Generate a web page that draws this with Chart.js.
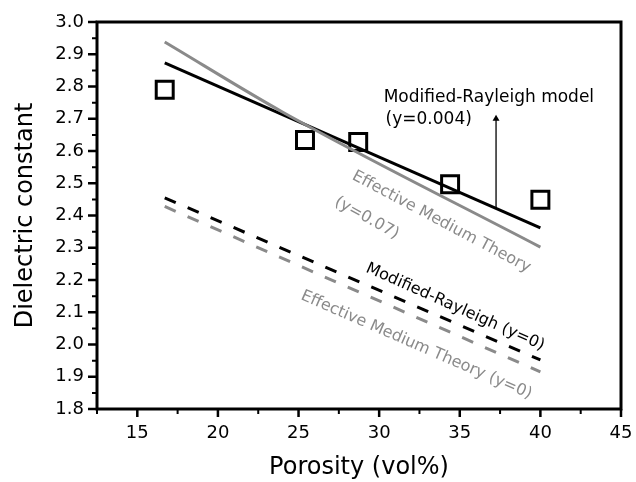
<!DOCTYPE html>
<html>
<head>
<meta charset="utf-8">
<script src="https://cdn.jsdelivr.net/npm/chart.js@4.4.0/dist/chart.umd.min.js"></script>
<style>
	html, body { margin: 0; padding: 0; background: #fff; }
	#wrap { width: 636px; height: 482px; }
</style>
</head>
<body>
<div id="wrap"><canvas id="myChart" width="636" height="482"></canvas></div>
<script>
// tick labels
const xTicks = [15, 20, 25, 30, 35, 40, 45];
const yTicks = [1.8, 1.9, 2.0, 2.1, 2.2, 2.3, 2.4, 2.5, 2.6, 2.7, 2.8, 2.9, 3.0];

// measured points
const porosity = [16.7, 25.4, 28.7, 34.4, 40.0];
const measured = [2.79, 2.634, 2.628, 2.497, 2.449];

// model curves
const rayleighX = [16.7, 40.0];
const rayleighFit = [2.873, 2.362];
const emtX = [16.7, 24.0, 40.0];
const emtFit = [2.938, 2.721, 2.302];
const zeroX = [16.7, 40.0];
const rayleighZero = [2.455, 1.952];
const emtZero = [2.428, 1.915];

// arrow pointing at the fit line
const arrowX = [37.25, 37.25];
const arrowY = [2.422, 2.70];

const FONT = "'DejaVu Sans', sans-serif";
const GRAY = "#8a8a8a";

const pts = (xs, ys) => xs.map((v, i) => ({ x: v, y: ys[i] }));

const notes = [
	{ text: "Modified-Rayleigh model", x: 30.28, y: 2.752, angle: 0, size: 17, color: "#000", align: "left", base: "alphabetic" },
	{ text: "(y=0.004)", x: 30.4, y: 2.683, angle: 0, size: 17, color: "#000", align: "left", base: "alphabetic" },
	{ text: "Effective Medium Theory", x: 33.86, y: 2.38, angle: 28, size: 16, color: GRAY, align: "center", base: "middle" },
	{ text: "(y=0.07)", x: 29.23, y: 2.392, angle: 29, size: 16, color: GRAY, align: "center", base: "middle" },
	{ text: "Modified-Rayleigh (y=0)", x: 34.72, y: 2.116, angle: 24, size: 16, color: "#000", align: "center", base: "middle" },
	{ text: "Effective Medium Theory (y=0)", x: 32.31, y: 1.998, angle: 23.5, size: 16, color: GRAY, align: "center", base: "middle" },
];

const frame = {
	id: "frame",
	afterDraw(chart) {
		const { ctx, chartArea: a, scales: { x, y } } = chart;
		ctx.save();
		ctx.strokeStyle = "#000";
		ctx.lineWidth = 3;
		ctx.strokeRect(a.left, a.top, a.right - a.left, a.bottom - a.top);

		// major ticks
		ctx.lineWidth = 2.5;
		ctx.beginPath();
		xTicks.forEach((v) => {
			const px = x.getPixelForValue(v);
			ctx.moveTo(px, a.bottom);
			ctx.lineTo(px, a.bottom + 8);
		});
		yTicks.forEach((v) => {
			const py = y.getPixelForValue(v);
			ctx.moveTo(a.left, py);
			ctx.lineTo(a.left - 9, py);
		});
		ctx.stroke();

		// minor ticks
		ctx.lineWidth = 2;
		ctx.beginPath();
		const xMinor = [xTicks[0] - 2.5].concat(xTicks.slice(1).map((v, i) => (v + xTicks[i]) / 2));
		xMinor.forEach((v) => {
			const px = x.getPixelForValue(v);
			ctx.moveTo(px, a.bottom);
			ctx.lineTo(px, a.bottom + 5);
		});
		yTicks.slice(1).forEach((v, i) => {
			const py = y.getPixelForValue((v + yTicks[i]) / 2);
			ctx.moveTo(a.left, py);
			ctx.lineTo(a.left - 5, py);
		});
		ctx.stroke();

		// annotations
		notes.forEach((n) => {
			ctx.save();
			ctx.translate(x.getPixelForValue(n.x), y.getPixelForValue(n.y));
			ctx.rotate((n.angle * Math.PI) / 180);
			ctx.font = n.size + "px " + FONT;
			ctx.fillStyle = n.color;
			ctx.textAlign = n.align;
			ctx.textBaseline = n.base;
			ctx.fillText(n.text, 0, 0);
			ctx.restore();
		});
		ctx.restore();
	},
};

const ctx = document.getElementById("myChart");

new Chart(ctx, {
	type: "line",
	data: {
		datasets: [
			{
				data: pts(zeroX, rayleighZero),
				borderColor: "#000",
				borderWidth: 3,
				borderDash: [12, 13],
				pointRadius: 0,
			},
			{
				data: pts(zeroX, emtZero),
				borderColor: GRAY,
				borderWidth: 3,
				borderDash: [12, 13],
				pointRadius: 0,
			},
			{
				data: pts(emtX, emtFit),
				borderColor: GRAY,
				borderWidth: 3,
				pointRadius: 0,
				cubicInterpolationMode: "monotone",
			},
			{
				data: pts(rayleighX, rayleighFit),
				borderColor: "#000",
				borderWidth: 3,
				pointRadius: 0,
			},
			{
				data: pts(arrowX, arrowY),
				borderColor: "#000",
				borderWidth: 1.3,
				pointStyle: "triangle",
				pointRadius: [0, 4],
				pointBackgroundColor: "#000",
				pointBorderWidth: 0,
			},
			{
				data: pts(porosity, measured),
				showLine: false,
				pointStyle: "rect",
				pointRadius: 12,
				pointBorderWidth: 3,
				pointBorderColor: "#000",
				pointBackgroundColor: "rgba(0,0,0,0)",
			},
		],
	},
	options: {
		responsive: false,
		animation: false,
		devicePixelRatio: 1,
		layout: {
			padding: { top: 22, right: 14, bottom: 0, left: 0 },
		},
		plugins: {
			legend: { display: false },
			tooltip: { enabled: false },
		},
		scales: {
			x: {
				type: "linear",
				min: 12.5,
				max: 45,
				afterBuildTicks: (s) => {
					s.ticks = xTicks.map((v) => ({ value: v }));
				},
				afterFit: (s) => {
					s.height = 73;
					s.paddingLeft = 0;
					s.paddingRight = 0;
				},
				grid: { display: false, drawTicks: false },
				border: { display: false },
				ticks: {
					padding: 14,
					color: "#000",
					font: { family: FONT, size: 18 },
					maxRotation: 0,
				},
				title: {
					display: true,
					text: "Porosity (vol%)",
					color: "#000",
					font: { family: FONT, size: 24 },
					padding: { top: 0, bottom: 0 },
				},
			},
			y: {
				type: "linear",
				min: 1.8,
				max: 3.0,
				afterBuildTicks: (s) => {
					s.ticks = yTicks.map((v) => ({ value: v }));
				},
				afterFit: (s) => {
					s.width = 97;
					s.paddingTop = 0;
					s.paddingBottom = 0;
				},
				grid: { display: false, drawTicks: false },
				border: { display: false },
				ticks: {
					padding: 13,
					color: "#000",
					font: { family: FONT, size: 18 },
					callback: (v) => v.toFixed(1),
				},
				title: {
					display: true,
					text: "Dielectric constant",
					color: "#000",
					font: { family: FONT, size: 24 },
					padding: { top: 11, bottom: 0 },
				},
			},
		},
	},
	plugins: [frame],
});
</script>
</body>
</html>
